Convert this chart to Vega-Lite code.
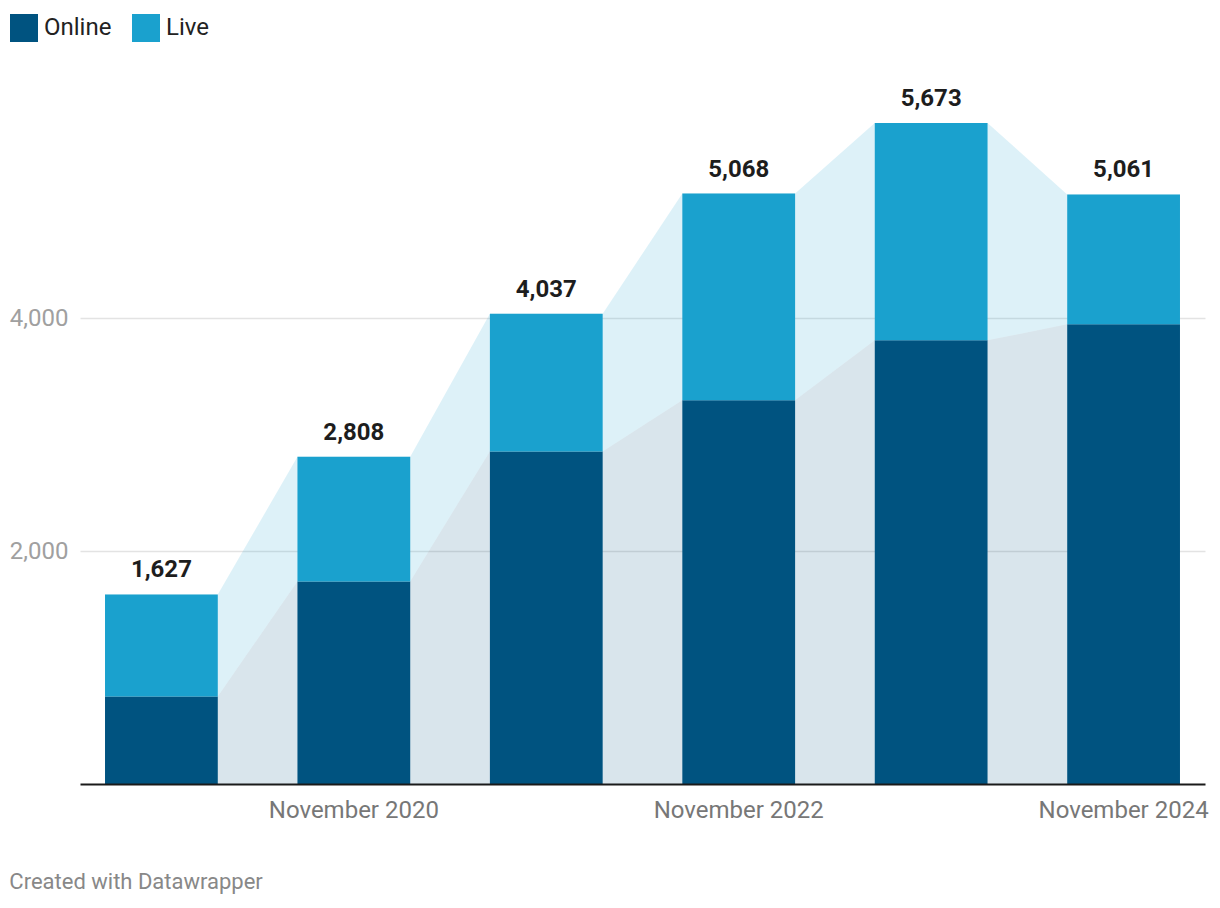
{
  "$schema": "https://vega.github.io/schema/vega-lite/v6.json",
  "width": 1125,
  "height": 699,
  "autosize": {"type": "none"},
  "padding": {"left": 80, "top": 85, "right": 15, "bottom": 124},
  "background": "white",
  "config": {
    "font": "Roboto",
    "view": {"stroke": null},
    "legend": {"padding": 0}
  },
  "title": {
    "text": "Created with Datawrapper",
    "orient": "bottom",
    "anchor": "start",
    "frame": "bounds",
    "font": "Roboto",
    "fontSize": 22,
    "fontWeight": "normal",
    "color": "#888888",
    "offset": 50
  },
  "datasets": {
    "bars": [
      {"month": "November 2019", "online": 751, "live": 876, "total": 1627},
      {"month": "November 2020", "online": 1739, "live": 1069, "total": 2808},
      {"month": "November 2021", "online": 2855, "live": 1182, "total": 4037},
      {"month": "November 2022", "online": 3293, "live": 1775, "total": 5068},
      {"month": "November 2023", "online": 3808, "live": 1865, "total": 5673},
      {"month": "November 2024", "online": 3946, "live": 1115, "total": 5061}
    ],
    "edges": [
      {"month": "November 2019", "edge": "left"},
      {"month": "November 2019", "edge": "right"},
      {"month": "November 2020", "edge": "left"},
      {"month": "November 2020", "edge": "right"},
      {"month": "November 2021", "edge": "left"},
      {"month": "November 2021", "edge": "right"},
      {"month": "November 2022", "edge": "left"},
      {"month": "November 2022", "edge": "right"},
      {"month": "November 2023", "edge": "left"},
      {"month": "November 2023", "edge": "right"},
      {"month": "November 2024", "edge": "left"},
      {"month": "November 2024", "edge": "right"}
    ]
  },
  "resolve": {"scale": {"xOffset": "independent"}},
  "encoding": {
    "x": {
      "field": "month",
      "type": "ordinal",
      "sort": null,
      "scale": {"paddingInner": 0.414, "paddingOuter": 0.13},
      "axis": {
        "title": null,
        "values": ["November 2020", "November 2022", "November 2024"],
        "labelAngle": 0,
        "labelFont": "Roboto",
        "labelFontSize": 24,
        "labelColor": "#777777",
        "labelPadding": 14,
        "ticks": false,
        "domainColor": "#1a1a1a",
        "domainWidth": 2,
        "grid": false,
        "zindex": 1
      }
    }
  },
  "layer": [
    {
      "data": {"name": "edges"},
      "transform": [
        {"lookup": "month", "from": {"data": {"name": "bars"}, "key": "month", "fields": ["online", "total"]}}
      ],
      "encoding": {
        "xOffset": {"field": "edge", "type": "nominal", "sort": ["left", "right"], "scale": {"type": "point", "padding": 0}}
      },
      "layer": [
        {
          "mark": {"type": "area", "color": "#005380", "opacity": 0.15},
          "encoding": {
            "y": {
              "field": "online",
              "type": "quantitative",
              "stack": null,
              "scale": {"domain": [0, 6000], "nice": false},
              "axis": {
                "title": null,
                "values": [2000, 4000],
                "format": ",",
                "labelExpr": "format(datum.value, ',')",
                "labelFont": "Roboto",
                "labelFontSize": 24,
                "labelColor": "#a0a0a0",
                "labelPadding": 12,
                "ticks": false,
                "domain": false,
                "gridColor": "#e3e3e3",
                "gridWidth": 1.5
              }
            }
          }
        },
        {
          "mark": {"type": "area", "color": "#1aa1ce", "opacity": 0.15},
          "encoding": {
            "y": {"field": "online", "type": "quantitative", "stack": null},
            "y2": {"field": "total"}
          }
        }
      ]
    },
    {
      "data": {"name": "bars"},
      "layer": [
        {
          "mark": {"type": "bar"},
          "encoding": {
            "y": {"field": "online", "type": "quantitative", "stack": null},
            "color": {
              "datum": "Online",
              "type": "nominal",
              "scale": {"domain": ["Online", "Live"], "range": ["#005380", "#1aa1ce"]},
              "legend": {
                "title": null,
                "orient": "none",
                "direction": "horizontal",
                "legendX": -70,
                "legendY": -71,
                "symbolType": "square",
                "symbolSize": 784,
                "symbolStrokeWidth": 0,
                "symbolOpacity": 1,
                "labelFont": "Roboto",
                "labelFontSize": 24,
                "labelColor": "#222222",
                "labelOffset": 6,
                "columnPadding": 20
              }
            }
          }
        },
        {
          "mark": {"type": "bar"},
          "encoding": {
            "y": {"field": "online", "type": "quantitative", "stack": null},
            "y2": {"field": "total"},
            "color": {"datum": "Live", "type": "nominal"}
          }
        },
        {
          "mark": {"type": "text", "font": "Roboto", "fontSize": 24, "fontWeight": "bold", "color": "#1d1d1d", "baseline": "alphabetic", "dy": -17},
          "encoding": {
            "y": {"field": "total", "type": "quantitative"},
            "text": {"field": "total", "type": "quantitative", "format": ","}
          }
        }
      ]
    }
  ]
}
